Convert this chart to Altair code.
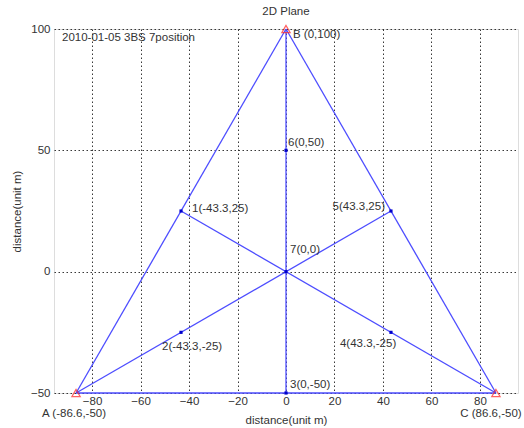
import altair as alt
import pandas as pd

# Measurement positions (numbered) and base stations (lettered), in metres
pt_names = ["1", "2", "3", "4", "5", "6", "7"]
pt_x = [-43.3, -43.3, 0, 43.3, 43.3, 0, 0]
pt_y = [25, -25, -50, -25, 25, 50, 0]

bs_names = ["A", "B", "C"]
bs_x = [-86.6, 0, 86.6]
bs_y = [-50, 100, -50]

# Triangle edges and the three medians through the centre
seg_from = ["A", "B", "C", "A", "C", "B"]
seg_to = ["B", "C", "A", "5", "1", "3"]

x_ticks = [-80, -60, -40, -20, 0, 20, 40, 60, 80]
y_ticks = [-50, 0, 50, 100]
x_domain = [-95.7, 95.7]
y_domain = [-50, 100]

chart_title = "2D Plane"
note_text = "2010-01-05 3BS 7position"
note_pos = (-92.4, 96.3)
axis_title = "distance(unit m)"

FONT = "Liberation Sans"
FS = 11.5
TXT = "#333333"
LINE = "#4d4dff"

coords = {n: (x, y) for n, x, y in zip(pt_names, pt_x, pt_y)}
coords.update({n: (x, y) for n, x, y in zip(bs_names, bs_x, bs_y)})

segs = pd.DataFrame({
    "x": [coords[a][0] for a in seg_from],
    "y": [coords[a][1] for a in seg_from],
    "x2": [coords[b][0] for b in seg_to],
    "y2": [coords[b][1] for b in seg_to],
})

pts = pd.DataFrame({"name": pt_names, "x": pt_x, "y": pt_y})
pts["label"] = [f"{n}({x:g},{y:g})" for n, x, y in zip(pt_names, pt_x, pt_y)]

bss = pd.DataFrame({"name": bs_names, "x": bs_x, "y": bs_y})
bss["label"] = [f"{n} ({x:g},{y:g})" for n, x, y in zip(bs_names, bs_x, bs_y)]

xs = alt.Scale(domain=x_domain, nice=False, zero=False)
ys = alt.Scale(domain=y_domain, nice=False, zero=False)

axis_common = dict(
    grid=True, gridDash=[1.5, 2.5], gridColor="#222222", gridOpacity=0.9,
    ticks=False, domain=False, labelFont=FONT, labelFontSize=FS,
    labelColor=TXT, labelFlush=False, titleFont=FONT, titleFontSize=FS,
    titleFontWeight="normal", titleColor=TXT,
)

x_enc = alt.X("x:Q", scale=xs, axis=alt.Axis(
    values=x_ticks, title=axis_title, labelPadding=2,
    titleX=232, titleY=27, titleBaseline="middle", **axis_common))
y_enc = alt.Y("y:Q", scale=ys, axis=alt.Axis(
    values=y_ticks, title=axis_title, labelPadding=4,
    titleX=-37, titleY=182, titleAngle=270, titleAlign="center",
    titleBaseline="middle", **axis_common))

lines = alt.Chart(segs).mark_rule(color=LINE, strokeWidth=1.3).encode(
    x=x_enc, y=y_enc, x2="x2:Q", y2="y2:Q")

dots = alt.Chart(pts).mark_point(
    filled=True, shape="square", size=10, color="#0000cc", opacity=1
).encode(x="x:Q", y="y:Q")

stations = alt.Chart(bss).mark_point(
    shape="triangle-up", size=70, color="#ff2020", strokeWidth=1.2, filled=False
).encode(x="x:Q", y="y:Q")

# label placement relative to each marker: (dx, dy, align)
label_style = {
    "1": (11, -2, "left"),
    "2": (-19, 15, "left"),
    "3": (4, -8, "left"),
    "4": (-51, 12, "left"),
    "5": (-6, -4, "right"),
    "6": (2, -7, "left"),
    "7": (4, -22, "left"),
    "A": (-2, 21, "center"),
    "B": (7, 6, "left"),
    "C": (-5, 21, "center"),
}

text_layers = []
for name, (dx, dy, align) in label_style.items():
    src = pts if name in pt_names else bss
    text_layers.append(
        alt.Chart(src).transform_filter(alt.datum.name == name).mark_text(
            dx=dx, dy=dy, align=align, baseline="middle", font=FONT,
            fontSize=FS, color=TXT
        ).encode(x="x:Q", y="y:Q", text="label:N")
    )

note = alt.Chart(pd.DataFrame({"x": [note_pos[0]], "y": [note_pos[1]],
                               "t": [note_text]})).mark_text(
    align="left", baseline="middle", font=FONT, fontSize=FS, color=TXT
).encode(x="x:Q", y="y:Q", text="t:N")

chart = alt.layer(lines, dots, stations, note, *text_layers).properties(
    width=464, height=364,
    title=alt.TitleParams(chart_title, font=FONT, fontSize=FS,
                          fontWeight="normal", color=TXT, anchor="middle",
                          offset=5),
    autosize=alt.AutoSizeParams(type="none"),
    padding={"left": 54, "top": 29, "right": 6, "bottom": 35},
).configure_view(stroke="#555555", strokeWidth=1.2).configure(
    background="white")

chart.save("out.html", embed_options={"renderer": "svg", "actions": False})
